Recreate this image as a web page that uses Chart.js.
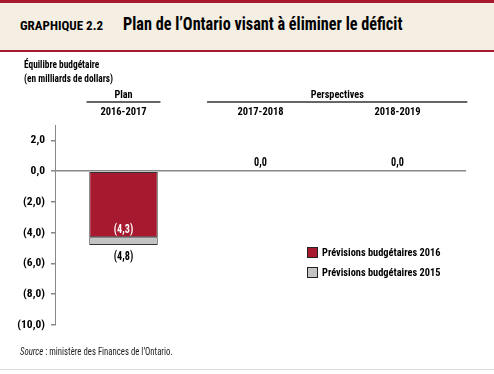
<!DOCTYPE html>
<html>
<head>
<meta charset="utf-8">
<script src="https://cdn.jsdelivr.net/npm/chart.js@4"></script>
<style>
  body { margin: 0; background: #fff; }
  #wrap { position: relative; width: 494px; height: 374px; overflow: hidden;
          font-family: "Roboto Condensed", "Liberation Sans", Arial, sans-serif; }
  #chart { position: absolute; left: 0; top: 0; }
  .hdr { position: absolute; left: 0; top: 0; width: 494px; height: 47px; background: #f4eee3;
         border-top: 3px solid #a6192e; border-bottom: 2px solid #a6192e; }
  .num { position: absolute; left: 20px; top: 15px; font-weight: bold; font-size: 13px; color: #000; }
  .ttl { position: absolute; left: 123px; top: 10px; font-weight: bold; font-size: 18px; color: #000;
         white-space: nowrap; transform: scaleX(0.9); transform-origin: left; }
  .unit { position: absolute; left: 24px; top: 58px; font-weight: bold; font-size: 11px; line-height: 14px;
          white-space: nowrap; transform: scaleX(0.85); transform-origin: left; }
  .src { position: absolute; left: 20px; top: 346px; font-size: 10px; color: #222;
         white-space: nowrap; transform: scaleX(0.875); transform-origin: left; }
  .foot { position: absolute; left: 0; top: 369px; width: 494px; height: 1px; background: #ddd; }
</style>
</head>
<body>
<div id="wrap">
  <canvas id="chart" width="494" height="374"></canvas>
  <div class="hdr">
    <div class="num">GRAPHIQUE 2.2</div>
    <div class="ttl">Plan de l’Ontario visant à éliminer le déficit</div>
  </div>
  <div class="unit">Équilibre budgétaire<br>(en milliards de dollars)</div>
  <div class="src"><i>Source</i> : ministère des Finances de l’Ontario.</div>
  <div class="foot"></div>
</div>
<script>
const years = ["2016-2017", "2017-2018", "2018-2019"]
const budget2016 = [-4.3, 0.0, 0.0]
const budget2015 = [-4.8, 0.0, 0.0]
const y_ticks = [2, 0, -2, -4, -6, -8, -10]
const groups = [
    {label: "Plan", from: -0.27, to: 0.27},
    {label: "Perspectives", from: 0.61, to: 2.51}
]
const series_names = ["Prévisions budgétaires 2016", "Prévisions budgétaires 2015"]
const series_colors = ["#a6192e", "#c3c3c3"]

const FONT = '"Roboto Condensed", "Liberation Sans", Arial, sans-serif'

// the 2015 part is stacked under the 2016 bar, so only the difference is drawn
const extra2015 = budget2015.map((v, i) => Math.round((v - budget2016[i]) * 10) / 10)

function fmt(v){
    const s = Math.abs(v).toFixed(1).replace(".", ",")
    return v < 0 ? "(" + s + ")" : s
}

// narrow text a bit, the original uses a condensed face
function narrowText(ctx, text, x, y, sx){
    ctx.save()
    ctx.translate(x, y)
    ctx.scale(sx, 1)
    ctx.fillText(text, 0, 0)
    ctx.restore()
}

const extrasPlugin = {
    id: "extras",
    afterDatasetsDraw(chart){
        const ctx = chart.ctx
        const x = chart.scales.x
        const y = chart.scales.y
        ctx.save()
        ctx.font = "bold 12px " + FONT
        ctx.textAlign = "center"
        ctx.textBaseline = "middle"
        years.forEach((yr, i) => {
            const cx = x.getPixelForValue(i)
            if (budget2016[i] === 0 && budget2015[i] === 0){
                ctx.fillStyle = "#000"
                narrowText(ctx, fmt(0), cx, y.getPixelForValue(0) - 8, 0.85)
            } else {
                ctx.fillStyle = "#fff"
                narrowText(ctx, fmt(budget2016[i]), cx, y.getPixelForValue(budget2016[i]) - 7, 0.85)
                ctx.fillStyle = "#000"
                narrowText(ctx, fmt(budget2015[i]), cx, y.getPixelForValue(budget2015[i]) + 12, 0.85)
            }
        })

        // group headers above the years
        ctx.font = "bold 11px " + FONT
        groups.forEach(g => {
            const x1 = x.getPixelForValue(g.from)
            const x2 = x.getPixelForValue(g.to)
            ctx.fillStyle = "#000"
            narrowText(ctx, g.label, (x1 + x2) / 2, 95, 0.93)
            ctx.strokeStyle = "#666"
            ctx.lineWidth = 2
            ctx.beginPath()
            ctx.moveTo(x1, 102)
            ctx.lineTo(x2, 102)
            ctx.stroke()
        })

        // legend
        ctx.textAlign = "left"
        ctx.font = "bold 11.5px " + FONT
        series_names.forEach((name, i) => {
            const ly = 252 + i * 20
            ctx.fillStyle = series_colors[i]
            ctx.fillRect(307, ly - 5, 10, 10)
            ctx.strokeStyle = "#222"
            ctx.lineWidth = 1
            ctx.strokeRect(307.5, ly - 4.5, 10, 10)
            ctx.fillStyle = "#000"
            narrowText(ctx, name, 322, ly + 1, 0.9)
        })
        ctx.restore()
    }
}

new Chart(document.getElementById("chart"), {
    type: "bar",
    data: {
        labels: years,
        datasets: [{
            label: series_names[0],
            data: budget2016,
            backgroundColor: series_colors[0],
            borderColor: "#333",
            borderWidth: 1,
            borderSkipped: false
        }, {
            label: series_names[1],
            data: extra2015,
            backgroundColor: series_colors[1],
            borderColor: "#333",
            borderWidth: 1,
            borderSkipped: false
        }]
    },
    options: {
        responsive: false,
        devicePixelRatio: 1,
        animation: false,
        layout: {padding: {left: 0, right: 28, top: 100, bottom: 49}},
        plugins: {
            legend: {display: false},
            tooltip: {enabled: false}
        },
        datasets: {bar: {categoryPercentage: 1, barPercentage: 0.5}},
        scales: {
            x: {
                position: "top",
                stacked: true,
                grid: {display: false, drawTicks: false},
                border: {display: false},
                ticks: {
                    color: "#000",
                    padding: 6,
                    font: {family: FONT, size: 10.5, weight: "bold"}
                },
                afterFit(scale){ scale.height = 25 }
            },
            y: {
                stacked: true,
                min: -10,
                max: 3,
                afterBuildTicks(scale){
                    scale.ticks = y_ticks.map(v => ({value: v}))
                },
                afterFit(scale){ scale.width = 55 },
                border: {display: true, color: "#888", width: 1},
                grid: {
                    drawOnChartArea: true,
                    color: c => c.tick && c.tick.value === 0 ? "#888" : "rgba(0,0,0,0)",
                    lineWidth: 1.5,
                    tickColor: "#888",
                    tickLength: 4
                },
                ticks: {
                    color: "#000",
                    padding: 6,
                    font: {family: FONT, size: 11.5, weight: "bold"},
                    callback: v => fmt(v)
                }
            }
        }
    },
    plugins: [extrasPlugin]
});
</script>
</body>
</html>
